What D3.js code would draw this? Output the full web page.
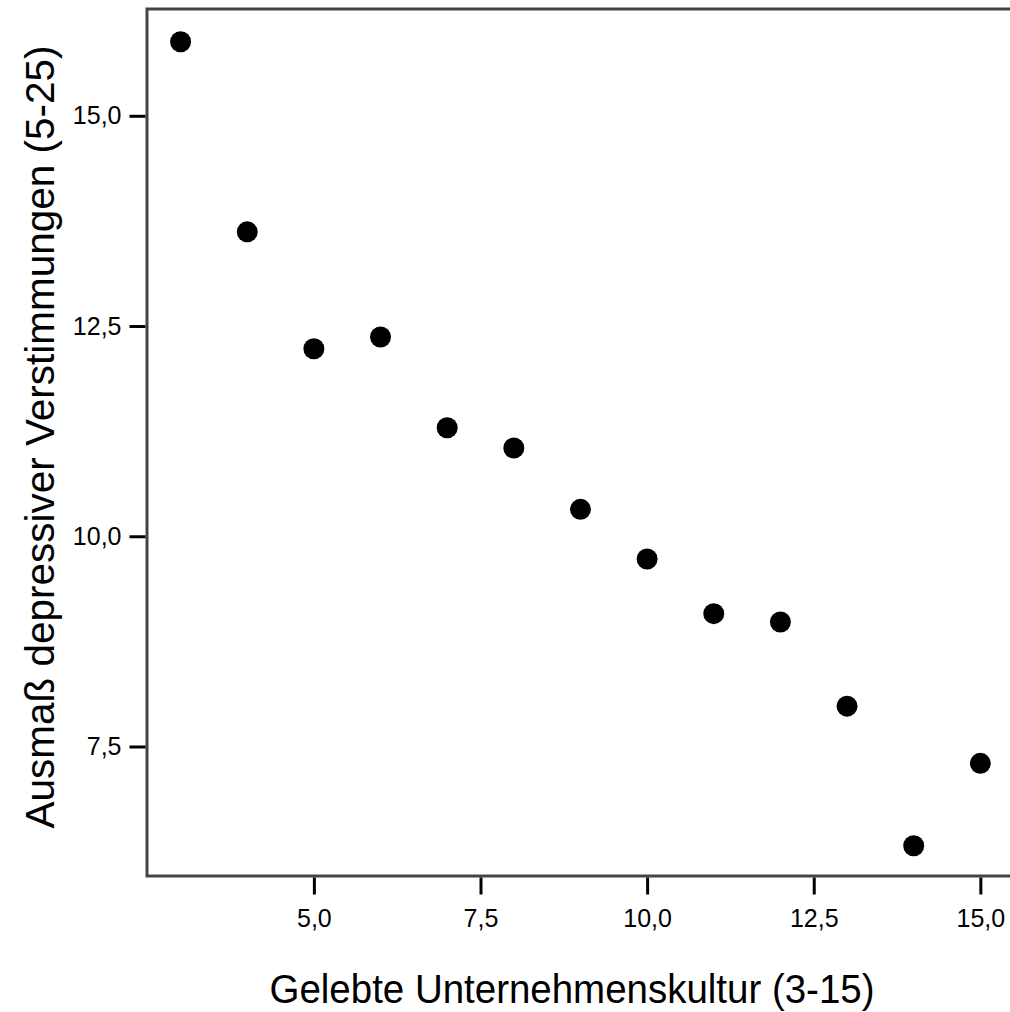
<!DOCTYPE html>
<html>
<head>
<meta charset="utf-8">
<script src="https://cdn.jsdelivr.net/npm/d3@7"></script>
<style>
  html, body { margin: 0; padding: 0; background: #fff; }
  svg { display: block; }
  text { font-family: "Liberation Sans", Arial, sans-serif; fill: #000; }
</style>
</head>
<body>
<svg id="chart" width="1010" height="1012"></svg>
<script>
// Gelebte Unternehmenskultur (x) vs. Ausmaß depressiver Verstimmungen (y)
const kultur = [3, 4, 5, 6, 7, 8, 9, 10, 11, 12, 13, 14, 15];
const verstimmung = [15.88, 13.62, 12.23, 12.37, 11.29, 11.05, 10.32, 9.73, 9.08, 8.98, 7.98, 6.32, 7.30];
const xTicks = [5, 7.5, 10, 12.5, 15];
const yTicks = [7.5, 10, 12.5, 15];
const xTitle = "Gelebte Unternehmenskultur (3-15)";
const yTitle = "Ausmaß depressiver Verstimmungen (5-25)";

const svg = d3.select("#chart");
const plotLeft = 147, plotRight = 1030, plotTop = 9, plotBottom = 876;

const x = d3.scaleLinear().domain([2.496, 15.745]).range([plotLeft, plotRight]);
const y = d3.scaleLinear().domain([5.96, 16.27]).range([plotBottom, plotTop]);

const fmt = d => d3.format(".1f")(d).replace(".", ",");

// plot frame (right edge runs past the visible area)
svg.append("rect")
  .attr("x", plotLeft).attr("y", plotTop)
  .attr("width", plotRight - plotLeft).attr("height", plotBottom - plotTop)
  .attr("fill", "none").attr("stroke", "#444").attr("stroke-width", 3);

// x axis
const xAxis = svg.append("g")
  .attr("transform", `translate(0,${plotBottom + 1.5})`)
  .call(d3.axisBottom(x).tickValues(xTicks).tickSize(17).tickSizeOuter(0).tickFormat(fmt));
xAxis.select(".domain").remove();
xAxis.selectAll(".tick line").attr("stroke", "#000").attr("stroke-width", 3);
xAxis.selectAll(".tick text")
  .attr("y", 32).attr("dy", "0.71em")
  .style("font-size", "25px");

// y axis
const yAxis = svg.append("g")
  .attr("transform", `translate(${plotLeft - 1.5},0)`)
  .call(d3.axisLeft(y).tickValues(yTicks).tickSize(16).tickSizeOuter(0).tickFormat(fmt));
yAxis.select(".domain").remove();
yAxis.selectAll(".tick line").attr("stroke", "#000").attr("stroke-width", 3);
yAxis.selectAll(".tick text")
  .attr("x", -24)
  .style("font-size", "25px");

// points
svg.append("g").selectAll("circle")
  .data(kultur.map((k, i) => [k, verstimmung[i]]))
  .join("circle")
  .attr("cx", d => x(d[0]))
  .attr("cy", d => y(d[1]))
  .attr("r", 10.5)
  .attr("fill", "#000");

// axis titles
svg.append("text")
  .attr("x", 572).attr("y", 1003)
  .attr("text-anchor", "middle")
  .attr("textLength", 605)
  .attr("lengthAdjust", "spacingAndGlyphs")
  .style("font-size", "41px")
  .text(xTitle);

svg.append("text")
  .attr("transform", "translate(54,437) rotate(-90)")
  .attr("text-anchor", "middle")
  .attr("textLength", 783)
  .attr("lengthAdjust", "spacingAndGlyphs")
  .style("font-size", "41px")
  .text(yTitle);
</script>
</body>
</html>
